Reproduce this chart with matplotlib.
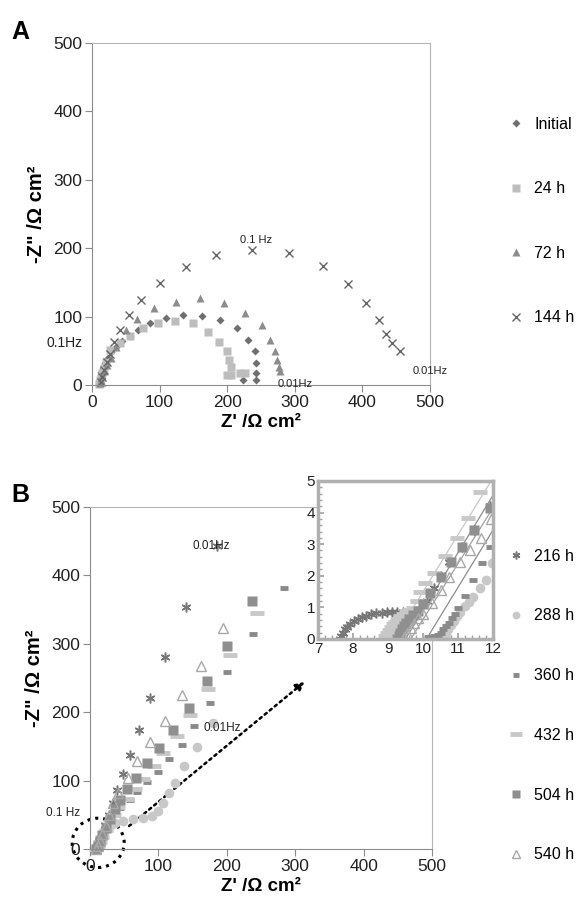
import numpy as np
import matplotlib.pyplot as plt
from matplotlib.patches import Ellipse, FancyArrowPatch

plt.rcParams['font.family'] = ['Liberation Sans', 'DejaVu Sans']

# ---- panel A data (Z', -Z'') ----
init_x = [10, 11, 12, 13, 14, 16, 19, 23, 28, 35, 45, 56, 68, 86, 109, 135, 163, 190, 214, 230, 241, 242, 242, 242, 223]
init_y = [1, 5, 9, 14, 19, 25, 32, 40, 48, 56, 65, 72, 80, 90, 98, 102, 101, 95, 83, 66, 49, 32, 17, 7, 7]
s24_x = [11, 12, 13, 15, 17, 20, 27, 41, 56, 76, 98, 123, 149, 172, 188, 200, 203, 205, 200, 206, 219, 227]
s24_y = [2, 7, 12, 18, 25, 33, 51, 61, 71, 83, 90, 94, 90, 78, 63, 50, 37, 27, 15, 15, 17, 18]
s72_x = [12, 13, 15, 18, 22, 28, 36, 51, 67, 92, 124, 160, 195, 226, 251, 264, 270, 273, 277, 278]
s72_y = [3, 8, 14, 21, 29, 39, 55, 80, 96, 112, 122, 127, 120, 105, 88, 66, 50, 36, 27, 21]
s144_x = [13, 15, 18, 22, 27, 32, 42, 54, 73, 100, 139, 184, 237, 292, 341, 378, 406, 425, 435, 443, 456]
s144_y = [4, 12, 22, 33, 45, 63, 80, 102, 124, 149, 173, 190, 198, 193, 174, 147, 120, 95, 75, 61, 49]

# ---- panel B data ----
b216_x = [8, 10, 13, 17, 22, 28, 34, 40, 49, 58, 71, 88, 110, 141, 185]
b216_y = [0, 5, 12, 22, 35, 50, 67, 86, 109, 138, 174, 221, 280, 353, 443]
b288_x = [10, 11, 12, 14, 17, 21, 26, 31, 37, 49, 63, 78, 90, 100, 107, 115, 125, 137, 156, 180]
b288_y = [0, 2, 5, 10, 16, 23, 30, 35, 38, 41, 44, 45, 48, 55, 67, 82, 97, 121, 149, 184]
b360_x = [10, 12, 15, 19, 24, 30, 36, 44, 58, 69, 83, 99, 116, 134, 152, 175, 200, 238, 284]
b360_y = [0, 4, 10, 18, 28, 40, 50, 60, 72, 84, 98, 113, 131, 152, 180, 214, 258, 314, 381]
b432_x = [9, 11, 14, 18, 23, 29, 35, 41, 54, 66, 78, 93, 107, 127, 146, 173, 205, 244]
b432_y = [0, 4, 10, 18, 28, 40, 50, 61, 73, 87, 102, 122, 140, 165, 196, 234, 284, 345]
b504_x = [9, 11, 14, 18, 23, 29, 36, 44, 54, 67, 83, 101, 122, 145, 171, 200, 237]
b504_y = [0, 5, 11, 20, 31, 44, 58, 71, 87, 104, 125, 147, 174, 206, 246, 297, 362]
b540_x = [9, 11, 14, 18, 23, 28, 34, 41, 55, 69, 88, 109, 135, 162, 195]
b540_y = [0, 5, 12, 22, 34, 50, 67, 82, 104, 128, 156, 187, 225, 268, 323]

# ---- inset (high frequency zoom) ----
i216_x = [7.62, 7.65, 7.7, 7.76, 7.83, 7.92, 8.02, 8.13, 8.25, 8.38, 8.52, 8.67, 8.82, 8.97, 9.12, 9.27, 9.42, 9.6,
          10.1, 10.3, 10.5, 10.75, 11.1, 11.45, 11.9]
i216_y = [0.0, 0.1, 0.2, 0.3, 0.39, 0.48, 0.56, 0.63, 0.69, 0.74, 0.78, 0.81, 0.83, 0.85, 0.86, 0.86, 0.86, 0.86,
          1.2, 1.6, 2.0, 2.45, 2.9, 3.45, 4.2]
i288_x = [10.58, 10.65, 10.72, 10.8, 10.88, 10.96, 11.05, 11.2, 11.32, 11.44, 11.62, 11.79, 11.96]
i288_y = [0.02, 0.15, 0.3, 0.45, 0.58, 0.72, 0.86, 1.03, 1.18, 1.34, 1.6, 1.87, 2.4]
i360_x = [10.15, 10.3, 10.42, 10.5, 10.58, 10.67, 10.75, 10.82, 10.92, 11.01, 11.2, 11.44, 11.68, 11.91]
i360_y = [0.05, 0.08, 0.12, 0.2, 0.3, 0.4, 0.52, 0.65, 0.8, 0.97, 1.37, 1.87, 2.39, 2.92]
i432_x = [8.9, 8.96, 9.02, 9.08, 9.14, 9.2, 9.27, 9.35, 9.43, 9.52, 9.6, 9.7, 9.82, 9.91, 10.06, 10.3, 10.63, 10.96, 11.29, 11.63]
i432_y = [0.08, 0.18, 0.28, 0.38, 0.46, 0.55, 0.63, 0.72, 0.8, 0.88, 0.93, 0.97, 1.2, 1.5, 1.78, 2.1, 2.63, 3.2, 3.84, 4.66]
i504_x = [9.25, 9.3, 9.35, 9.4, 9.45, 9.52, 9.6, 9.7, 9.85, 10.0, 10.2, 10.5, 10.8, 11.1, 11.45, 11.9]
i504_y = [0.0, 0.1, 0.2, 0.3, 0.4, 0.5, 0.62, 0.75, 0.9, 1.1, 1.45, 1.95, 2.45, 2.9, 3.45, 4.15]
i540_x = [9.45, 9.55, 9.65, 9.75, 9.87, 10.0, 10.25, 10.5, 10.75, 11.05, 11.35, 11.65, 11.95]
i540_y = [0.05, 0.2, 0.35, 0.5, 0.65, 0.8, 1.15, 1.55, 1.95, 2.45, 2.8, 3.2, 3.8]
# fitted straight lines in the inset
fit_x = [[9.17, 12], [9.5, 12], [9.65, 12], [10.1, 12]]
fit_y = [[0, 5.1], [0, 4.55], [0, 4.15], [0, 3.45]]
fit_c = ['#c8c8c8', '#8c8c8c', '#a0a0a0', '#8c8c8c']

labels_a = ['Initial', '24 h', '72 h', '144 h']
labels_b = ['216 h', '288 h', '360 h', '432 h', '504 h', '540 h']

sty_a = [dict(marker='D', ms=4.5, color='#6f6f6f', mec='none'),
         dict(marker='s', ms=6, color='#bdbdbd', mec='none'),
         dict(marker='^', ms=6, color='#8c8c8c', mec='none'),
         dict(marker='x', ms=6, color='#666666', mew=1.0)]
sty_b = [dict(marker=(6, 2, 0), ms=7, color='#777777', mew=1.1),
         dict(marker='o', ms=7, color='#c8c8c8', mec='none'),
         dict(marker='_', ms=6, color='#8a8a8a', mew=3.5),
         dict(marker='_', ms=10, color='#c8c8c8', mew=3.5),
         dict(marker='s', ms=7, color='#8f8f8f', mec='none'),
         dict(marker='^', ms=7, color='#a8a8a8', mfc='none', mew=1.0)]

fig = plt.figure(figsize=(5.82, 9.08), dpi=100)


def style_axes(ax):
    ax.set_xlim(0, 500)
    ax.set_ylim(0, 500)
    ax.set_xticks(np.arange(0, 501, 100))
    ax.set_yticks(np.arange(0, 501, 100))
    for s in ['left', 'bottom']:
        ax.spines[s].set_color('#8c8c8c')
    for s in ['top', 'right']:
        ax.spines[s].set_color('#b5b5b5')
    ax.tick_params(direction='out', length=5, color='#8c8c8c', labelsize=12.5, pad=2, labelcolor='#222222')
    ax.set_xlabel("Z' /\u03a9 cm\u00b2", fontsize=13.5, fontweight='bold', labelpad=3)
    ax.set_ylabel('-Z" /\u03a9 cm\u00b2', fontsize=14.5, fontweight='bold', labelpad=5)


# ---------- panel A ----------
axA = fig.add_axes([0.1581, 0.576, 0.5808, 0.3767])
style_axes(axA)
for xs, ys, st, lb in zip([init_x, s24_x, s72_x, s144_x], [init_y, s24_y, s72_y, s144_y], sty_a, labels_a):
    axA.plot(xs, ys, ls='none', label=lb, clip_on=False, **st)
axA.text(242, 212, '0.1 Hz', fontsize=8, ha='center', va='center', color='#222222')
axA.text(-40, 61, '0.1Hz', fontsize=10, ha='center', va='center', color='#222222', clip_on=False)
axA.text(300, 2, '0.01Hz', fontsize=8, ha='center', va='center', color='#222222', clip_on=False)
axA.text(500, 20, '0.01Hz', fontsize=8, ha='center', va='center', color='#222222', clip_on=False)
axA.legend(loc='center left', bbox_to_anchor=(0.86, 0.7566), bbox_transform=fig.transFigure,
           frameon=False, numpoints=1, handlelength=1.0, handletextpad=0.6, borderpad=0,
           labelspacing=3.1, fontsize=11.5, markerscale=0.9)
fig.text(0.02, 0.965, 'A', fontsize=18, fontweight='bold', va='center')

# ---------- panel B ----------
axB = fig.add_axes([0.1546, 0.065, 0.5876, 0.3767])
style_axes(axB)
for xs, ys, st, lb in zip([b216_x, b288_x, b360_x, b432_x, b504_x, b540_x],
                          [b216_y, b288_y, b360_y, b432_y, b504_y, b540_y], sty_b, labels_b):
    axB.plot(xs, ys, ls='none', label=lb, clip_on=False, **st)
axB.text(178, 443, '0.01Hz', fontsize=8.5, ha='center', va='center', color='#222222')
axB.text(193, 177, '0.01Hz', fontsize=8.5, ha='center', va='center', color='#222222')
axB.text(-40, 53, '0.1 Hz', fontsize=8.5, ha='center', va='center', color='#222222', clip_on=False)
axB.add_patch(Ellipse((12, 9), 76, 72, fill=False, ls=(0, (1, 1.6)), lw=2.2, color='black', clip_on=False))
axB.add_patch(FancyArrowPatch((54, 31), (317, 247), arrowstyle='-|>', mutation_scale=13,
                              ls=(0, (1, 1.6)), lw=1.8, color='black'))
axB.legend(loc='center left', bbox_to_anchor=(0.86, 0.223), bbox_transform=fig.transFigure,
           frameon=False, numpoints=1, handlelength=1.0, handletextpad=0.6, borderpad=0,
           labelspacing=2.8, fontsize=11.5, markerscale=0.8)
fig.text(0.02, 0.455, 'B', fontsize=18, fontweight='bold', va='center')

# ---------- inset ----------
axI = fig.add_axes([0.5464, 0.2963, 0.3007, 0.174])
axI.set_xlim(7, 12)
axI.set_ylim(0, 5)
axI.set_xticks(np.arange(7, 13, 1))
axI.set_yticks(np.arange(0, 6, 1))
axI.set_xticks(np.arange(7, 12.01, 0.2), minor=True)
axI.set_yticks(np.arange(0, 5.01, 0.2), minor=True)
for s in axI.spines.values():
    s.set_color('#b0b0b0')
    s.set_linewidth(2.5)
axI.tick_params(which='both', direction='in', color='#a0a0a0', labelsize=11, pad=2, labelcolor='#222222')
axI.tick_params(which='major', length=4, width=1.2)
axI.tick_params(which='minor', length=3, width=1)
for fx, fy, fc in zip(fit_x, fit_y, fit_c):
    axI.plot(fx, fy, color=fc, lw=0.9)
axI.plot(i216_x[:18], i216_y[:18], color='#777777', lw=0.6)
for xs, ys, st in zip([i216_x, i288_x, i360_x, i432_x, i504_x, i540_x],
                      [i216_y, i288_y, i360_y, i432_y, i504_y, i540_y], sty_b):
    axI.plot(xs, ys, ls='none', **st)

fig.savefig('out.png', dpi=100)
